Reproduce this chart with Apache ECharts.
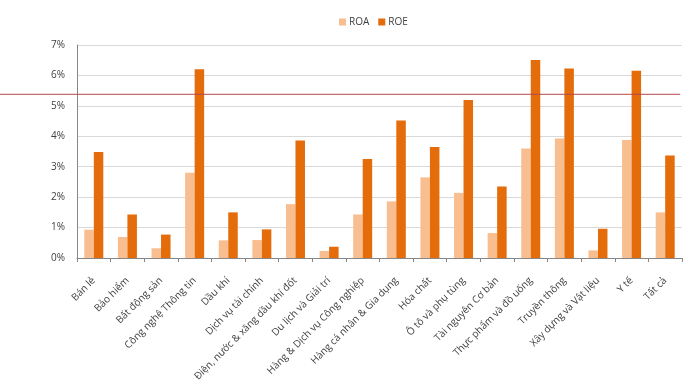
<!DOCTYPE html>
<html><head><meta charset="utf-8">
<script src="https://cdn.jsdelivr.net/npm/echarts@6/dist/echarts.min.js"></script>
<style>html,body{margin:0;padding:0;background:#fff}#c{width:700px;height:387px}</style>
</head><body><div id="c"></div>
<script>
const categories = ["Bán lẻ","Bảo hiểm","Bất động sản","Công nghệ Thông tin","Dầu khí","Dịch vụ tài chính","Điện, nước & xăng dầu khí đốt","Du lịch và Giải trí","Hàng & Dịch vụ Công nghiệp","Hàng cá nhân & Gia dụng","Hóa chất","Ô tô và phụ tùng","Tài nguyên Cơ bản","Thực phẩm và đồ uống","Truyền thông","Xây dựng và Vật liệu","Y tế","Tất cả"];
const roa = [0.93,0.69,0.32,2.80,0.58,0.59,1.77,0.23,1.43,1.86,2.65,2.14,0.82,3.60,3.93,0.25,3.88,1.50];
const roe = [3.48,1.43,0.77,6.20,1.50,0.94,3.86,0.37,3.25,4.52,3.65,5.19,2.35,6.51,6.23,0.96,6.15,3.37];
const yTicks = [0,1,2,3,4,5,6,7];
const refLine = 5.38;

const chart = echarts.init(document.getElementById('c'));
const font = '"Open Sans", "Noto Sans", sans-serif';
chart.setOption({
  animation:false,
  textStyle:{fontFamily:font},
  legend:{top:12,left:334,itemWidth:7,itemHeight:7,itemGap:9,icon:'rect',
    textStyle:{fontSize:10,color:'#404040',fontFamily:font,padding:[0,0,0,-2]},data:['ROA','ROE']},
  grid:{left:77,right:18,top:45,bottom:129},
  xAxis:{type:'category',data:categories,
    axisLine:{lineStyle:{color:'#868686',width:1}},
    axisTick:{show:true,alignWithLabel:false,length:4,lineStyle:{color:'#868686'}},
    axisLabel:{rotate:45,fontSize:10,color:'#404040',margin:21,interval:0,fontFamily:font,padding:[0,0,0,8]}},
  yAxis:{type:'value',min:yTicks[0],max:yTicks[yTicks.length-1],interval:1,
    axisLine:{show:true,lineStyle:{color:'#868686'}},
    axisTick:{show:false},
    axisLabel:{formatter:v=>v+'%',fontSize:10,color:'#404040',margin:12,fontFamily:font},
    splitLine:{lineStyle:{color:'#d9d9d9'}}},
  series:[
    {name:'ROA',type:'bar',data:roa,barWidth:9.5,barGap:'0%',itemStyle:{color:'#F9BE8F'}},
    {name:'ROE',type:'bar',data:roe,barWidth:9.5,barGap:'0%',itemStyle:{color:'#E46C0A'}}
  ]
});
const yPx = chart.convertToPixel({yAxisIndex:0}, refLine);
const xEnd = chart.convertToPixel({xAxisIndex:0}, categories[categories.length-1]) + 15;
chart.setOption({graphic:[{type:'line',shape:{x1:0,y1:yPx,x2:xEnd,y2:yPx},
  style:{stroke:'#B8474A',lineWidth:1},z:100}]});
</script></body></html>
